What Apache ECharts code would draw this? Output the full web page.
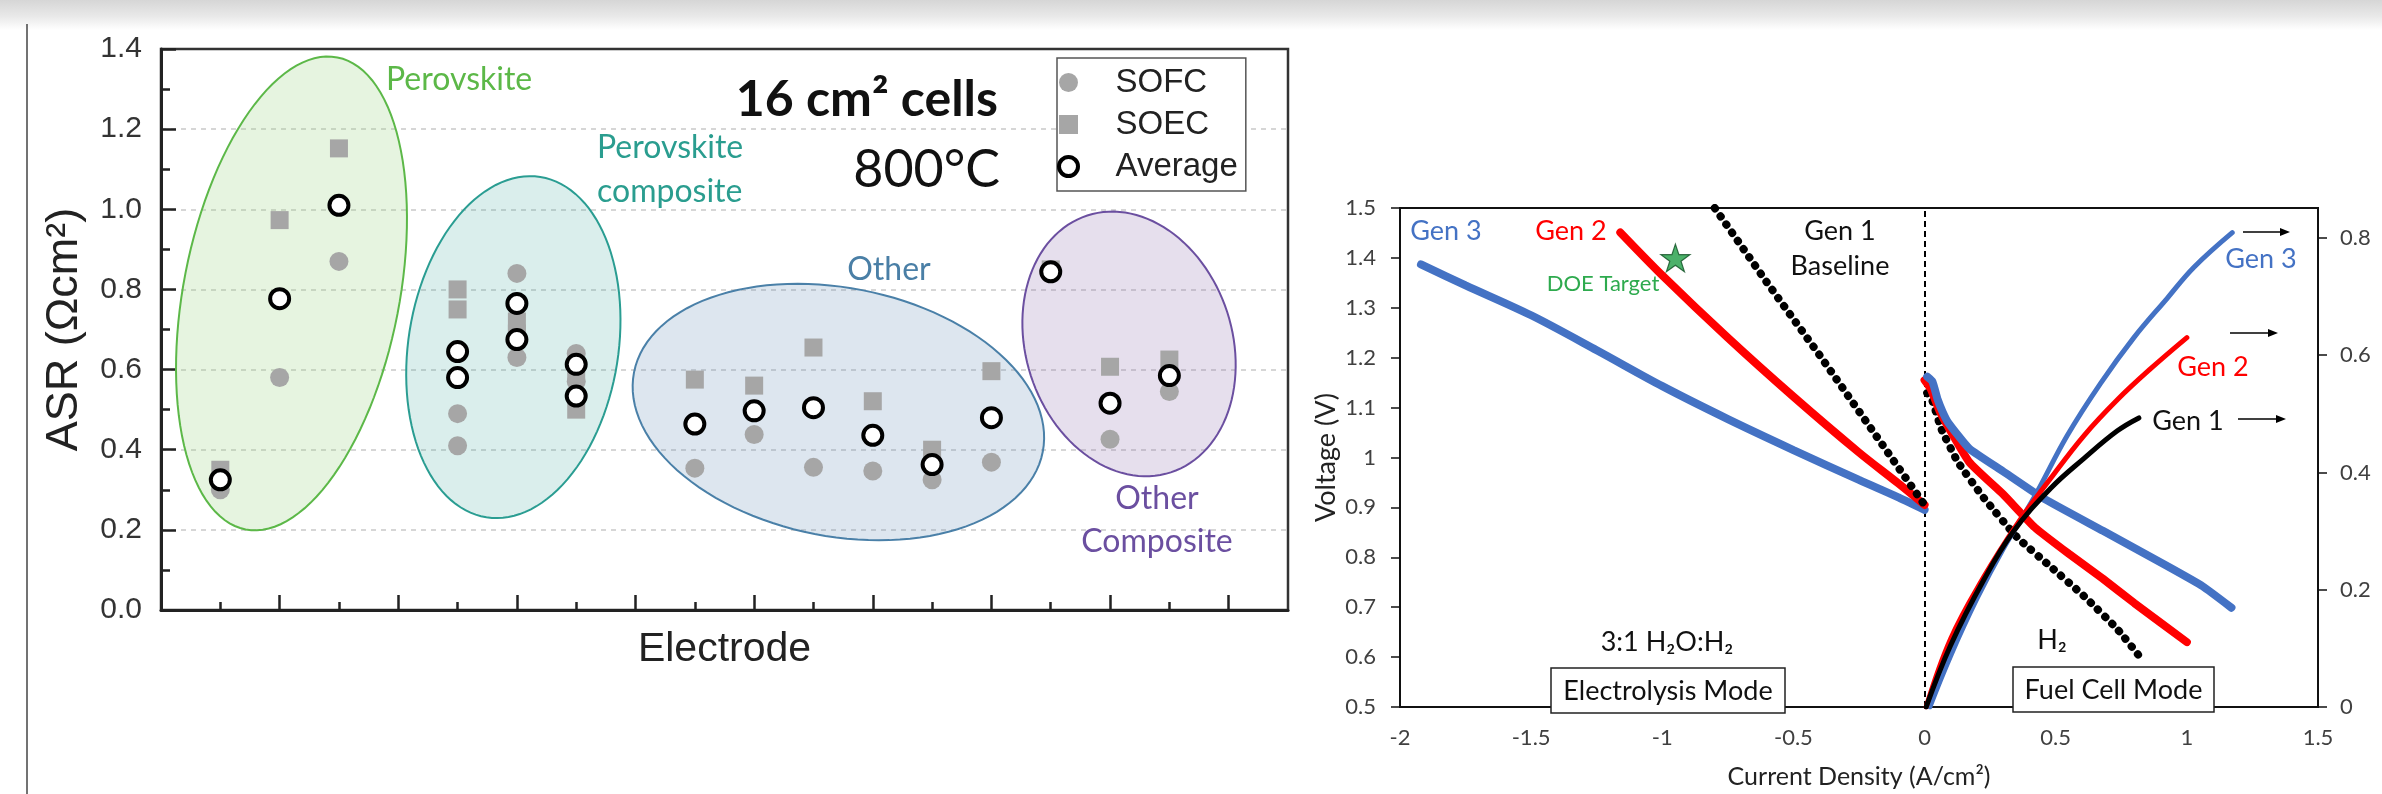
<!DOCTYPE html>
<html><head><meta charset="utf-8">
<script src="https://cdn.jsdelivr.net/npm/echarts@6/dist/echarts.min.js"></script>
<style>html,body{margin:0;padding:0;background:#fff;}#c{width:2382px;height:794px;}</style>
</head><body><div id="c"></div>
<script>
// ===== Left chart: ASR of 16 cm2 cells at 800 C =====
const electrodePos = [1, 2, 3, 5, 5, 6, 6, 7, 7, 9, 10, 11, 12, 13, 14, 15, 16, 17];
const asrSOFC    = [0.30, 0.58, 0.87, 0.49, 0.41, 0.84, 0.63, 0.64, 0.57, 0.354, 0.438, 0.356, 0.347, 0.325, 0.369, 0.84, 0.426, 0.545];
const asrSOEC    = [0.35, 0.973, 1.152, 0.80, 0.75, 0.69, 0.72, 0.59, 0.50, 0.575, 0.56, 0.655, 0.521, 0.40, 0.596, 0.85, 0.607, 0.625];
const asrAverage = [0.325, 0.777, 1.01, 0.645, 0.58, 0.765, 0.675, 0.613, 0.534, 0.464, 0.497, 0.505, 0.436, 0.363, 0.48, 0.844, 0.516, 0.585];
const electrodeMajorTicks = [2, 4, 6, 8, 10, 12, 14, 16, 18];
const electrodeMinorTicks = [1, 3, 5, 7, 9, 11, 13, 15, 17];
// material groups (region in data units: centre, half-spread, tilt in degrees)
const groupNames   = ['Perovskite', 'Perovskite composite', 'Other', 'Other Composite'];
const groupCenterX = [2.2, 5.94, 11.42, 16.32];
const groupCenterY = [0.79, 0.656, 0.494, 0.664];
const groupSpreadX = [1.82, 1.77, 3.51, 1.74];
const groupSpreadY = [0.60, 0.43, 0.31, 0.337];
const groupTilt    = [11, 9, 11, -18];

// ===== Right chart: Gen 1-3 cell performance =====
const currentTicks = [-2, -1.5, -1, -0.5, 0, 0.5, 1, 1.5];
const powerTicks = [0, 0.2, 0.4, 0.6, 0.8];
// electrolysis mode (voltage)
const gen3ElecI = [-1.92, -1.75, -1.5, -1.25, -1.0, -0.75, -0.5, -0.25, -0.1, 0];
const gen3ElecV = [1.387, 1.345, 1.285, 1.215, 1.143, 1.077, 1.015, 0.955, 0.92, 0.895];
const gen2ElecI = [-1.16, -1.0, -0.75, -0.5, -0.25, -0.1, 0];
const gen2ElecV = [1.451, 1.365, 1.24, 1.122, 1.01, 0.948, 0.905];
const gen1ElecI = [-0.80, -0.6, -0.4, -0.2, 0];
const gen1ElecV = [1.50, 1.35, 1.205, 1.055, 0.905];
// fuel cell mode (voltage)
const gen3FcI = [0.01, 0.03, 0.05, 0.07, 0.09, 0.17, 0.3, 0.45, 0.68, 0.93, 1.06, 1.17];
const gen3FcV = [1.162, 1.152, 1.116, 1.09, 1.07, 1.018, 0.972, 0.919, 0.853, 0.781, 0.742, 0.699];
const gen2FcI = [0.0, 0.025, 0.06, 0.17, 0.3, 0.42, 0.55, 0.68, 0.8, 1.0];
const gen2FcV = [1.155, 1.136, 1.09, 0.991, 0.926, 0.86, 0.807, 0.757, 0.708, 0.63];
const gen1FcI = [0.01, 0.03, 0.064, 0.127, 0.226, 0.353, 0.481, 0.608, 0.735, 0.817];
const gen1FcV = [1.129, 1.113, 1.057, 0.991, 0.919, 0.84, 0.781, 0.722, 0.656, 0.603];
// fuel cell mode (power density, right axis)
const gen3PowI = [0.02, 0.1, 0.2, 0.3, 0.417, 0.544, 0.671, 0.798, 0.925, 1.027, 1.173];
const gen3PowP = [0, 0.088, 0.185, 0.27, 0.357, 0.463, 0.552, 0.63, 0.697, 0.75, 0.809];
const gen2PowI = [0.006, 0.099, 0.226, 0.353, 0.481, 0.608, 0.735, 0.862, 1.0];
const gen2PowP = [0, 0.116, 0.222, 0.312, 0.39, 0.463, 0.524, 0.577, 0.63];
const gen1PowI = [0.006, 0.099, 0.226, 0.34, 0.481, 0.608, 0.735, 0.817];
const gen1PowP = [0, 0.105, 0.217, 0.30, 0.373, 0.424, 0.471, 0.493];
const doeTargetI = [-0.95];
const doeTargetV = [1.40];

// ===== styling =====
const FA = '"Liberation Sans", Arial, sans-serif';
const FL = 'Lato, "Open Sans", sans-serif';
const BLUE = '#4472c4', RED = '#ff0000', BLACK = '#000000';
const groupStyles = [
  {fill: 'rgba(150,210,125,0.24)', stroke: '#5cb848'},
  {fill: 'rgba(70,170,160,0.20)', stroke: '#2a9d92'},
  {fill: 'rgba(100,140,180,0.22)', stroke: '#4a80a8'},
  {fill: 'rgba(140,110,175,0.22)', stroke: '#6b4fa0'}
];
const zip = (a, b) => a.map((v, i) => [v, b[i]]);

function renderGroup(params, api) {
  const cx = api.value(0), cy = api.value(1);
  const c = api.coord([cx, cy]);
  const s = api.size([api.value(2), api.value(3)], [cx, cy]);
  const phi = api.value(4) * Math.PI / 180;
  const pts = [];
  for (let k = 0; k < 120; k++) {
    const t = k / 120 * 2 * Math.PI;
    const xp = s[0] * Math.cos(t), yp = s[1] * Math.sin(t);
    pts.push([c[0] + xp * Math.cos(phi) - yp * Math.sin(phi), c[1] + xp * Math.sin(phi) + yp * Math.cos(phi)]);
  }
  const st = groupStyles[params.dataIndex];
  return {type: 'polygon', shape: {points: pts}, style: {fill: st.fill, stroke: st.stroke, lineWidth: 2}};
}

function txt(text, x, y, color, font, align) {
  return {type: 'text', x: x, y: y, silent: true, z: 50,
    style: {text: text, fill: color, font: font, align: align || 'center', textAlign: align || 'center',
            verticalAlign: 'middle', textVerticalAlign: 'middle'}};
}
function arrow(x1, x2, y) {
  return [
    {type: 'line', silent: true, z: 50, shape: {x1: x1, y1: y, x2: x2 - 8, y2: y}, style: {stroke: '#000', lineWidth: 1.5}},
    {type: 'polygon', silent: true, z: 50, shape: {points: [[x2, y], [x2 - 10, y - 4], [x2 - 10, y + 4]]}, style: {fill: '#000'}}
  ];
}
function box(x, y, w, h) {
  return {type: 'rect', silent: true, z: 49, shape: {x: x, y: y, width: w, height: h}, style: {fill: '#fff', stroke: '#222', lineWidth: 1.5}};
}

const chart = echarts.init(document.getElementById('c'), null, {renderer: 'canvas'});
const option = {
  animation: false,
  backgroundColor: '#fff',
  grid: [
    {left: 161, top: 49, width: 1127, height: 561, show: true, borderColor: '#333', borderWidth: 2.5, backgroundColor: 'transparent'},
    {left: 1400, top: 208, width: 918, height: 508, show: true, borderColor: '#111', borderWidth: 2, backgroundColor: 'transparent'}
  ],
  legend: {
    show: true, orient: 'vertical', left: 1057, top: 58, selectedMode: false, symbolKeepAspect: true,
    backgroundColor: '#fff', borderColor: '#555', borderWidth: 1.5, padding: [8, 8, 8, 0],
    itemGap: 9, itemWidth: 84, itemHeight: 19,
    textStyle: {fontFamily: FA, fontSize: 33, color: '#222'},
    data: [
      {name: 'SOFC', icon: 'circle'},
      {name: 'SOEC', icon: 'path://M0,0L10,0L10,10L0,10Z'},
      {name: 'Average', icon: 'circle', itemStyle: {color: '#fff', borderColor: '#000', borderWidth: 4}}
    ]
  },
  xAxis: [
    {gridIndex: 0, type: 'value', min: 0, max: 19, name: 'Electrode', nameLocation: 'middle', nameGap: 19,
     nameTextStyle: {fontFamily: FA, fontSize: 41, color: '#222'},
     axisLine: {show: true, onZero: false, lineStyle: {color: '#222', width: 3}},
     axisTick: {show: true, inside: true, length: 15, customValues: electrodeMajorTicks, lineStyle: {color: '#222', width: 2.5}},
     axisLabel: {show: false}, splitLine: {show: false}},
    {gridIndex: 0, type: 'value', min: 0, max: 19, position: 'bottom',
     axisLine: {show: false, onZero: false},
     axisTick: {show: true, inside: true, length: 8, customValues: electrodeMinorTicks, lineStyle: {color: '#222', width: 2.5}},
     axisLabel: {show: false}, splitLine: {show: false}},
    {gridIndex: 1, type: 'value', min: -2, max: 1.5, interval: 0.5,
     name: 'Current Density (A/cm²)', nameLocation: 'middle', nameGap: 57,
     nameTextStyle: {fontFamily: FL, fontSize: 25, color: '#222'},
     axisLine: {show: true, onZero: false, lineStyle: {color: '#111', width: 2}},
     axisTick: {show: false},
     axisLabel: {margin: 20, fontFamily: FL, fontSize: 22, color: '#404040', customValues: currentTicks},
     splitLine: {show: false}}
  ],
  yAxis: [
    {gridIndex: 0, type: 'value', min: 0, max: 1.4, interval: 0.2,
     name: 'ASR (Ωcm²)', nameLocation: 'middle', nameGap: 74,
     nameTextStyle: {fontFamily: FA, fontSize: 45, color: '#222'},
     axisLine: {show: true, onZero: false, lineStyle: {color: '#222', width: 3}},
     axisTick: {show: true, inside: true, length: 15, lineStyle: {color: '#222', width: 2.5}},
     minorTick: {show: true, splitNumber: 2, length: 9, lineStyle: {color: '#222', width: 2.5}},
     axisLabel: {margin: 19, fontFamily: FA, fontSize: 30, color: '#333', formatter: v => v.toFixed(1)},
     splitLine: {show: true, showMinLine: false, showMaxLine: false, lineStyle: {color: '#c9c9c9', width: 1.5, type: [5, 5]}}},
    {gridIndex: 1, type: 'value', min: 0.5, max: 1.5, interval: 0.1, position: 'left',
     name: 'Voltage (V)', nameLocation: 'middle', nameGap: 60,
     nameTextStyle: {fontFamily: FL, fontSize: 27, color: '#222'},
     axisLine: {show: true, onZero: false, lineStyle: {color: '#111', width: 2}},
     axisTick: {show: true, inside: false, length: 9, lineStyle: {color: '#111', width: 1.5}},
     axisLabel: {margin: 24, fontFamily: FL, fontSize: 22, color: '#404040', formatter: v => String(+v.toFixed(1))},
     splitLine: {show: false}},
    {gridIndex: 1, type: 'value', min: 0, max: 0.851, position: 'right',
     axisLine: {show: true, onZero: false, lineStyle: {color: '#111', width: 2}},
     axisTick: {show: true, inside: false, length: 9, customValues: powerTicks, lineStyle: {color: '#111', width: 1.5}},
     axisLabel: {margin: 22, fontFamily: FL, fontSize: 22, color: '#404040', customValues: powerTicks, formatter: v => String(+v.toFixed(1))},
     splitLine: {show: false}}
  ],
  series: [
    {type: 'custom', name: 'groups', xAxisIndex: 0, yAxisIndex: 0, z: 1, silent: true, clip: false,
     renderItem: renderGroup,
     data: groupNames.map((n, i) => [groupCenterX[i], groupCenterY[i], groupSpreadX[i], groupSpreadY[i], groupTilt[i]])},
    {type: 'scatter', name: 'SOFC', xAxisIndex: 0, yAxisIndex: 0, z: 3, symbol: 'circle', symbolSize: 19,
     itemStyle: {color: '#a6a6a6', opacity: 1}, data: zip(electrodePos, asrSOFC)},
    {type: 'scatter', name: 'SOEC', xAxisIndex: 0, yAxisIndex: 0, z: 4, symbol: 'rect', symbolSize: 18,
     itemStyle: {color: '#a6a6a6', opacity: 1}, data: zip(electrodePos, asrSOEC)},
    {type: 'scatter', name: 'Average', xAxisIndex: 0, yAxisIndex: 0, z: 5, symbol: 'circle', symbolSize: 19,
     itemStyle: {color: '#fff', borderColor: '#000', borderWidth: 4, opacity: 1}, data: zip(electrodePos, asrAverage)},

    {type: 'line', name: 'Gen 3 electrolysis', xAxisIndex: 2, yAxisIndex: 1, z: 3, symbol: 'none', smooth: 0.3,
     lineStyle: {color: BLUE, width: 8, cap: 'round'}, data: zip(gen3ElecI, gen3ElecV),
     markLine: {silent: true, symbol: ['none', 'none'], label: {show: false}, z: 2,
                lineStyle: {color: '#000', width: 2, type: [6, 4]}, data: [{xAxis: 0}]}},
    {type: 'line', name: 'Gen 2 electrolysis', xAxisIndex: 2, yAxisIndex: 1, z: 4, symbol: 'none', smooth: 0.3,
     lineStyle: {color: RED, width: 8, cap: 'round'}, data: zip(gen2ElecI, gen2ElecV)},
    {type: 'line', name: 'Gen 1 electrolysis', xAxisIndex: 2, yAxisIndex: 1, z: 5, symbol: 'none',
     lineStyle: {color: BLACK, width: 8, type: [0.5, 9.5], cap: 'round'}, data: zip(gen1ElecI, gen1ElecV)},

    {type: 'line', name: 'Gen 1 fuel cell V', xAxisIndex: 2, yAxisIndex: 1, z: 3, symbol: 'none', smooth: 0.15,
     lineStyle: {color: BLACK, width: 8, type: [0.5, 9.5], cap: 'round'}, data: zip(gen1FcI, gen1FcV)},
    {type: 'line', name: 'Gen 2 fuel cell V', xAxisIndex: 2, yAxisIndex: 1, z: 4, symbol: 'none', smooth: 0.15,
     lineStyle: {color: RED, width: 8, cap: 'round'}, data: zip(gen2FcI, gen2FcV)},
    {type: 'line', name: 'Gen 3 fuel cell V', xAxisIndex: 2, yAxisIndex: 1, z: 5, symbol: 'none', smooth: 0.15,
     lineStyle: {color: BLUE, width: 8, cap: 'round'}, data: zip(gen3FcI, gen3FcV)},

    {type: 'line', name: 'Gen 3 power', xAxisIndex: 2, yAxisIndex: 2, z: 6, symbol: 'none', smooth: 0.4,
     lineStyle: {color: BLUE, width: 5, cap: 'round'}, data: zip(gen3PowI, gen3PowP)},
    {type: 'line', name: 'Gen 2 power', xAxisIndex: 2, yAxisIndex: 2, z: 7, symbol: 'none', smooth: 0.4,
     lineStyle: {color: RED, width: 5, cap: 'round'}, data: zip(gen2PowI, gen2PowP)},
    {type: 'line', name: 'Gen 1 power', xAxisIndex: 2, yAxisIndex: 2, z: 8, symbol: 'none', smooth: 0.4,
     lineStyle: {color: BLACK, width: 5, cap: 'round'}, data: zip(gen1PowI, gen1PowP)},

    {type: 'scatter', name: 'DOE Target', xAxisIndex: 2, yAxisIndex: 1, z: 9,
     symbol: 'path://M50,0 L61.8,35.5 L99,35.5 L69,57.5 L80.5,93 L50,71 L19.5,93 L31,57.5 L1,35.5 L38.2,35.5 Z',
     symbolSize: 29, symbolKeepAspect: true,
     itemStyle: {color: '#1f9e45', borderColor: '#0e4f22', borderWidth: 1.2}, data: zip(doeTargetI, doeTargetV)}
  ],
  graphic: [
    {type: 'rect', silent: true, z: -10, shape: {x: 0, y: 0, width: 2382, height: 30},
     style: {fill: new echarts.graphic.LinearGradient(0, 0, 0, 1, [
       {offset: 0, color: '#d6d6d6'}, {offset: 0.55, color: '#e9e9e9'}, {offset: 1, color: '#ffffff'}])}},
    {type: 'line', silent: true, shape: {x1: 27, y1: 24, x2: 27, y2: 794}, style: {stroke: '#444', lineWidth: 1.5}},

    txt('Perovskite', 386, 80, '#5cb848', '32px ' + FL, 'left'),
    txt('Perovskite', 597, 148, '#2a9d8f', '32px ' + FL, 'left'),
    txt('composite', 597, 192, '#2a9d8f', '32px ' + FL, 'left'),
    txt('Other', 889, 270, '#4a7fa6', '32px ' + FL),
    txt('Other', 1157, 499, '#6b4fa0', '32px ' + FL),
    txt('Composite', 1157, 542, '#6b4fa0', '32px ' + FL),
    txt('16 cm² cells', 998, 100, '#111', 'bold 50px ' + FL, 'right'),
    txt('800°C', 1000, 170, '#111', '52px ' + FL, 'right'),

    txt('Gen 3', 1446, 231, BLUE, '27px ' + FL),
    txt('Gen 2', 1571, 231, RED, '27px ' + FL),
    txt('DOE Target', 1603, 284, '#2eaa4e', '22px ' + FL),
    txt('Gen 1', 1840, 231, '#111', '27px ' + FL),
    txt('Baseline', 1840, 266, '#111', '27px ' + FL),
    txt('3:1 H₂O:H₂', 1667, 642, '#111', '27px ' + FL),
    txt('H₂', 2052, 640, '#111', '27px ' + FL),
    box(1551, 668, 234, 45),
    txt('Electrolysis Mode', 1668, 691, '#111', '27px ' + FL),
    box(2013, 667, 201, 45),
    txt('Fuel Cell Mode', 2113.5, 690, '#111', '27px ' + FL),
    txt('Gen 3', 2261, 259, BLUE, '27px ' + FL),
    txt('Gen 2', 2213, 367, RED, '27px ' + FL),
    txt('Gen 1', 2188, 421, '#111', '27px ' + FL),
    ...arrow(2243, 2290, 232),
    ...arrow(2230, 2278, 333),
    ...arrow(2238, 2286, 419)
  ]
};
chart.setOption(option);
</script>
</body></html>
